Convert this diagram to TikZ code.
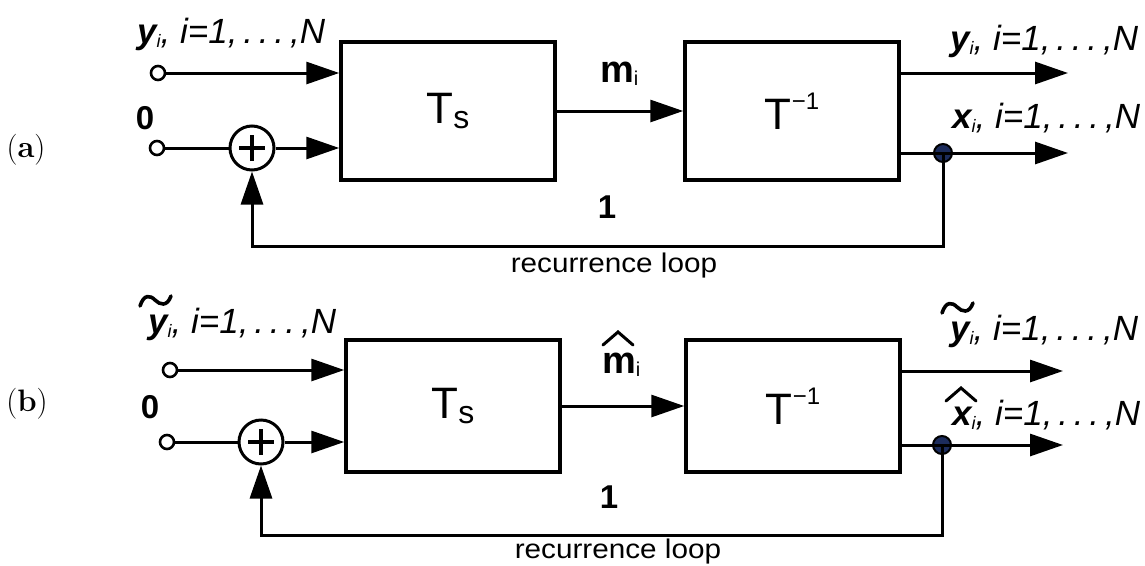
\documentclass[tikz,border=0pt]{standalone}
\usepackage{fontspec}
\usepackage{graphicx}
\setsansfont{Liberation Sans}
\usetikzlibrary{arrows.meta}

% bold italic vector with small index
\newcommand{\bvec}[1]{{\bfseries\itshape #1}}
\newcommand{\idx}{\raisebox{-0.12em}{\fontsize{18}{20}\selectfont\itshape i}}
\newcommand{\range}{{\itshape, i=1,\,.\,.\,.\,,N}}
\newcommand{\minusone}{\char"2212 1}
% plus sign inside an adder node
\newcommand{\plusmark}[1]{%
  \draw[line width=4pt] ([xshift=-13pt]#1.center) -- ([xshift=13pt]#1.center);
  \draw[line width=4pt] ([yshift=-13pt]#1.center) -- ([yshift=13pt]#1.center);}
% wide tilde above the first letter of a label (origin at its base west)
\newcommand{\tildeover}[1]{%
  \begin{scope}[shift={(#1.base west)}]
    \draw[accent] (-8,-27) .. controls (-4,-39) and (2,-38) .. (7,-33)
                           .. controls (12,-28) and (19,-26) .. (23,-37);
  \end{scope}}
% wide hat above the first letter of a label
\newcommand{\hatover}[3]{% node, left x, height
  \begin{scope}[shift={(#1.base west)}]
    \draw[hataccent] (#2,-#3) -- (#2+15,-#3-13) -- (#2+30,-#3);
  \end{scope}}

\definecolor{junctblue}{HTML}{1C2C5C}
\tikzset{
  sig/.style={line width=3pt},
  arr/.style={line width=3pt, -{Triangle[length=33pt,width=22pt]}},
  blk/.style={draw, line width=3.5pt, inner sep=0pt,
              minimum width=214pt, font=\sffamily\fontsize{44}{48}\selectfont},
  port/.style={circle, draw, line width=2.6pt, fill=white,
               minimum size=14pt, inner sep=0pt},
  adder/.style={circle, draw, line width=3pt, fill=white,
                minimum size=44pt, inner sep=0pt},
  junct/.style={circle, draw, line width=2pt, fill=junctblue,
                minimum size=18pt, inner sep=0pt},
  accent/.style={line width=3.6pt, line cap=round},
  hataccent/.style={line width=3pt, line cap=round, line join=miter},
  lbl/.style={font=\sffamily\fontsize{35}{40}\selectfont, inner sep=0pt},
  num/.style={font=\sffamily\bfseries\fontsize{33}{38}\selectfont, inner sep=0pt},
  note/.style={font=\sffamily\fontsize{27}{30}\selectfont, inner sep=0pt},
  tag/.style={font=\rmfamily\fontsize{31}{34}\selectfont, inner sep=0pt},
}

\begin{document}
\begin{tikzpicture}[x=1pt, y=-1pt]
\useasboundingbox (0,0) rectangle (1145,565);

% ================= (a) =================
\node[tag] (taga) at (26,150) {(\textbf{a})};

\node[blk, minimum height=138pt] (tsa) at (448,111)
  {T\raisebox{-5pt}{\fontsize{32}{34}\selectfont s}};
\node[blk, minimum height=138pt] (tia) at (792,111)
  {T\raisebox{20pt}{\fontsize{24}{26}\selectfont\minusone}};

\node[port] (pya) at (158,73) {};
\node[port] (p0a) at (157,148) {};
\node[adder] (suma) at (252,148) {};
\plusmark{suma}

\node[lbl, anchor=base west] (lya) at (137,43) {\bvec{y}\idx\range};
\node[num] (zeroa) at (145,118) {0};
\node[lbl, anchor=base west, font=\sffamily\fontsize{38}{40}\selectfont] (ma) at (600,82)
  {\textbf{m}\raisebox{-0.1em}{\fontsize{20}{22}\selectfont i}};
\node[lbl, anchor=base west] (oya) at (950,50) {\bvec{y}\idx\range};
\node[lbl, anchor=base west] (oxa) at (952,128) {\bvec{x}\idx\range};

\coordinate (eya) at (1068,73);
\coordinate (exa) at (1068,153);
\coordinate (loopa) at (600,246);
\node[junct] (ja) at (943,153) {};

\draw[arr] (pya.east) -- (pya -| tsa.west);
\draw[sig] (p0a.east) -- (suma.west);
\draw[arr] (suma.east) -- (suma -| tsa.west);
\draw[arr] (tsa.east) -- (tia.west);
\draw[arr] (eya -| tia.east) -- (eya);
\draw[sig] (ja -| tia.east) -- (ja.center);
\draw[arr] (ja.center) -- (exa);
\draw[arr] (ja.center) -- (ja |- loopa) -- (suma |- loopa) -- (suma.south);

\node[num] (onea) at (607,207) {1};
\node[note, anchor=base] (reca) at (614,272) {\scalebox{1.1}[1]{recurrence loop}};

% ================= (b) =================
\node[tag] (tagb) at (27,404) {(\textbf{b})};

\node[blk, minimum height=132pt] (tsb) at (453,406)
  {T\raisebox{-5pt}{\fontsize{32}{34}\selectfont s}};
\node[blk, minimum height=132pt] (tib) at (793,406)
  {T\raisebox{20pt}{\fontsize{24}{26}\selectfont\minusone}};

\node[port] (pyb) at (170,370) {};
\node[port] (p0b) at (167,442) {};
\node[adder] (sumb) at (261,442) {};
\plusmark{sumb}

\node[lbl, anchor=base west] (lyb) at (148,333) {\bvec{y}\idx\range};
\tildeover{lyb}
\node[num] (zerob) at (150,407) {0};
\node[lbl, anchor=base west, font=\sffamily\fontsize{38}{40}\selectfont] (mb) at (602,373)
  {\textbf{m}\raisebox{-0.1em}{\fontsize{20}{22}\selectfont i}};
\hatover{mb}{1}{28}
\node[lbl, anchor=base west] (oyb) at (950,340) {\bvec{y}\idx\range};
\tildeover{oyb}
\node[lbl, anchor=base west] (oxb) at (952,425) {\bvec{x}\idx\range};
\hatover{oxb}{-6}{24}

\coordinate (eyb) at (1063,371);
\coordinate (exb) at (1063,445);
\coordinate (loopb) at (600,535);
\node[junct] (jb) at (942,445) {};

\draw[arr] (pyb.east) -- (pyb -| tsb.west);
\draw[sig] (p0b.east) -- (sumb.west);
\draw[arr] (sumb.east) -- (sumb -| tsb.west);
\draw[arr] (tsb.east) -- (tib.west);
\draw[arr] (eyb -| tib.east) -- (eyb);
\draw[sig] (jb -| tib.east) -- (jb.center);
\draw[arr] (jb.center) -- (exb);
\draw[arr] (jb.center) -- (jb |- loopb) -- (sumb |- loopb) -- (sumb.south);

\node[num] (oneb) at (609,497) {1};
\node[note, anchor=base] (recb) at (618,558) {\scalebox{1.1}[1]{recurrence loop}};
\end{tikzpicture}
\end{document}
